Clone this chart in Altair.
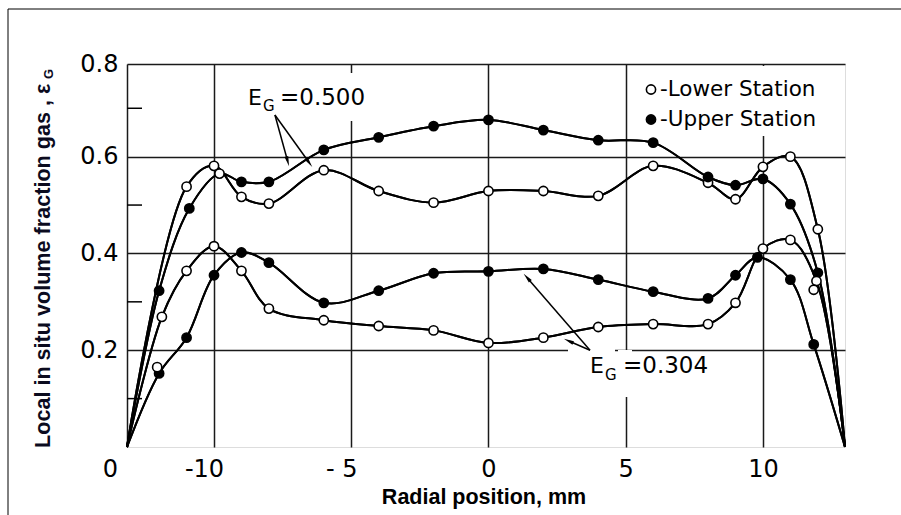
import math
import altair as alt
import pandas as pd

# ---------------- values ----------------
X_WALL_L, X_WALL_R = -13.17, 12.99   # pipe walls (mm)
Y_TOP = 0.7915                        # top of frame

# E_G = 0.500, lower station (open circles)
a_x = [-11, -10, -9, -8, -6, -4, -2, 0, 2, 4, 6, 8, 9, 10, 11, 12]
a_y = [0.538, 0.581, 0.517, 0.503, 0.572, 0.529, 0.505, 0.529, 0.529, 0.519,
       0.581, 0.546, 0.512, 0.579, 0.600, 0.450]
# E_G = 0.500, upper station (filled circles)
b_x = [-12, -10.9, -9.8, -9, -8, -6, -4, -2, 0, 2, 4, 6, 8, 9, 10, 11, 12]
b_y = [0.323, 0.493, 0.565, 0.548, 0.548, 0.614, 0.640, 0.663, 0.676, 0.655,
       0.634, 0.629, 0.558, 0.541, 0.554, 0.502, 0.360]
b_station = ["Upper", "Upper", "Lower"] + ["Upper"] * 14
# E_G = 0.304, lower station (open circles)
c_x = [-11.9, -11, -10, -9, -8, -6, -4, -2, 0, 2, 4, 6, 8, 9, 10, 11, 11.95]
c_y = [0.269, 0.364, 0.415, 0.364, 0.286, 0.262, 0.250, 0.241, 0.215, 0.226,
       0.248, 0.254, 0.254, 0.298, 0.410, 0.428, 0.343]
# E_G = 0.304, upper station (filled circles)
d_x = [-12, -11, -10, -9, -8, -6, -4, -2, 0, 2, 4, 6, 8, 9, 9.8, 11, 11.85]
d_y = [0.152, 0.226, 0.355, 0.402, 0.381, 0.298, 0.323, 0.359, 0.363, 0.368,
       0.346, 0.321, 0.307, 0.355, 0.392, 0.346, 0.212]
# stray open markers
extra_x = [-12.07, 11.85]
extra_y = [0.165, 0.325]

# arrows of the two annotations
arrow_sx = [-7.78, -7.78, 3.70, 3.70]
arrow_sy = [0.686, 0.686, 0.200, 0.200]
arrow_tx = [-7.26, -6.41, 1.27, 2.73]
arrow_ty = [0.579, 0.578, 0.359, 0.224]

x_ticks = [X_WALL_L, -10, -5, 0, 5, 10]
y_ticks = [0.2, 0.4, 0.6, Y_TOP]
y_minor = [0.1, 0.3, 0.5, 0.7]
legend_labels = ["-Lower Station", "-Upper Station"]
legend_station = ["Lower", "Upper"]

# ---------------- build tables ----------------
rows = []
def add_curve(cid, xs, ys, st):
    rows.append(dict(curve=cid, x=X_WALL_L, y=0.0, station="wall"))
    for x, y, s in zip(xs, ys, st):
        rows.append(dict(curve=cid, x=x, y=y, station=s))
    rows.append(dict(curve=cid, x=X_WALL_R, y=0.0, station="wall"))

add_curve("A", a_x, a_y, ["Lower"] * len(a_x))
add_curve("B", b_x, b_y, b_station)
add_curve("C", c_x, c_y, ["Lower"] * len(c_x))
add_curve("D", d_x, d_y, ["Upper"] * len(d_x))
for x, y in zip(extra_x, extra_y):
    rows.append(dict(curve="E", x=x, y=y, station="Lower"))
df = pd.DataFrame(rows)
one = pd.DataFrame({"k": [0]})

W, H = 718, 383
SX = W / (X_WALL_R - X_WALL_L)
SY = H / Y_TOP
R = 6.5
arr = []
for sx0, sy0, tx, ty in zip(arrow_sx, arrow_sy, arrow_tx, arrow_ty):
    dxp = (tx - sx0) * SX
    dyp = -(ty - sy0) * SY
    ln = math.hypot(dxp, dyp)
    ang = math.degrees(math.atan2(dxp, -dyp)) % 360
    cx = tx - dxp / ln * R / SX
    cy = ty + dyp / ln * R / SY
    arr.append(dict(x=sx0, y=sy0, x2=cx, y2=cy, ang=ang))
arr_df = pd.DataFrame(arr)

xs = alt.Scale(domain=[X_WALL_L, X_WALL_R], nice=False, zero=False)
ys = alt.Scale(domain=[0, Y_TOP], nice=False, zero=False)
fill_scale = alt.Scale(domain=["Lower", "Upper"], range=["white", "black"])

LETTER = "DejaVu Sans"
TITLE = "Liberation Sans"

x_axis = alt.Axis(values=x_ticks, title=None, grid=True, ticks=False, domain=False,
                  labelExpr="datum.value < -12 ? '0' : (datum.value == -5 ? '- 5' : '' + datum.value)",
                  labelFont=LETTER, labelFontSize=24, labelColor="black", labelPadding=10,
                  labelOffset={"condition": [{"test": "datum.value < -12", "value": -17},
                                              {"test": "datum.value < 0", "value": -10}],
                               "value": 0},
                  gridColor="#1a1a1a", gridWidth=1.5, gridOpacity=1, labelFlush=False)
y_axis = alt.Axis(values=y_ticks, title=None, grid=True, ticks=False, domain=False,
                  labelExpr="datum.value > 0.7 ? '0.8' : format(datum.value, '.1f')",
                  labelFont=LETTER, labelFontSize=24, labelColor="black", labelPadding=9,
                  gridColor="#1a1a1a", gridWidth=1.5, gridOpacity=1, labelFlush=False)

base = alt.Chart(df)

lines = base.mark_line(interpolate="catmull-rom", color="black", strokeWidth=2).encode(
    x=alt.X("x:Q", scale=xs, axis=x_axis),
    y=alt.Y("y:Q", scale=ys, axis=y_axis),
    detail="curve:N",
    order="x:Q",
).transform_filter("datum.curve != 'E'")

points = base.mark_point(shape="circle", filled=True, stroke="black", strokeWidth=1.6,
                         size=85, opacity=1).encode(
    x=alt.X("x:Q", scale=xs),
    y=alt.Y("y:Q", scale=ys),
    fill=alt.Fill("station:N", scale=fill_scale, legend=None),
).transform_filter("datum.station != 'wall'")

def mask(x1, x2, y1, y2):
    return alt.Chart(one).mark_rect(color="white", opacity=1).encode(
        x=alt.value(x1), x2=alt.value(x2), y=alt.value(y1), y2=alt.value(y2))

masks = [mask(116, 255, 9, 57), mask(513, 716, 2, 72),
         mask(441, 488, 280, 289), mask(491, 505, 286, 333)]

arrow_lines = alt.Chart(arr_df).mark_rule(color="black", strokeWidth=1.5).encode(
    x=alt.X("x:Q", scale=xs), y=alt.Y("y:Q", scale=ys),
    x2="x2:Q", y2="y2:Q")
arrow_heads = alt.Chart(arr_df).mark_point(
    shape="M0,-1L0.32,0.7L-0.32,0.7Z", filled=True, color="black", size=(2 * R) ** 2 * 0.85,
    opacity=1).encode(
    x=alt.X("x2:Q", scale=xs), y=alt.Y("y2:Q", scale=ys),
    angle=alt.Angle("ang:Q", scale=None))

def txt(s, x, y, size, font=LETTER, weight="normal", angle=0, align="left", baseline="alphabetic", color="black"):
    return alt.Chart(one).mark_text(text=s, font=font, fontSize=size, fontWeight=weight, angle=angle,
                                    align=align, baseline=baseline, color=color).encode(
        x=alt.value(x), y=alt.value(y))

texts = [
    txt("E", 121, 41, 22), txt("G", 136, 47, 15), txt("=0.500", 153, 41, 23),
    txt("E", 463, 309, 22), txt("G", 478, 316, 15), txt("=0.304", 496, 309, 23),
    txt("Radial position, mm", 357, 440, 21.5, font=TITLE, weight="bold", align="center"),
    txt("Local in situ volume fraction gas , \u03b5", -77, 384, 21.6, font=TITLE, weight="bold",
        angle=270, color="#0b0b1e"),
    txt("G", -74, 10, 13, font=TITLE, weight="bold", angle=270, align="center", color="#0b0b1e"),
]

leg_df = pd.DataFrame({"label": legend_labels, "station": legend_station, "i": [0, 1]})
leg_pts = alt.Chart(leg_df).mark_point(shape="circle", filled=True, stroke="black", strokeWidth=1.6,
                                        size=85, opacity=1).encode(
    x=alt.value(524), y=alt.Y("py:Q", scale=None),
    fill=alt.Fill("station:N", scale=fill_scale, legend=None),
).transform_calculate(py="25.5 + datum.i * 30")
leg_txt = alt.Chart(leg_df).mark_text(font=LETTER, fontSize=21.5, align="left", baseline="alphabetic",
                                       color="black").encode(
    x=alt.value(533), y=alt.Y("py:Q", scale=None), text="label:N",
).transform_calculate(py="32 + datum.i * 30")

minor_df = pd.DataFrame({"v": y_minor})
minor = alt.Chart(minor_df).mark_rule(color="black", strokeWidth=1.5).encode(
    x=alt.value(0), x2=alt.value(15), y=alt.Y("v:Q", scale=ys))

border_h = alt.Chart(one).mark_rule(color="black", strokeWidth=1).encode(
    x=alt.value(-119), x2=alt.value(780), y=alt.value(-55))
border_v = alt.Chart(one).mark_rule(color="black", strokeWidth=1).encode(
    x=alt.value(-119), y=alt.value(-55), y2=alt.value(460))

chart = alt.layer(
    lines, *masks, lines, points, arrow_lines, arrow_heads, *texts, leg_pts, leg_txt, minor,
    border_h, border_v,
).properties(
    width=W, height=H,
    autosize=alt.AutoSizeParams(type="none"),
    padding={"left": 127, "top": 64, "right": 56, "bottom": 68},
).configure_view(stroke="black", strokeWidth=2.5).configure(background="white")

chart.save("out.html", embed_options={"renderer": "svg", "actions": False})
